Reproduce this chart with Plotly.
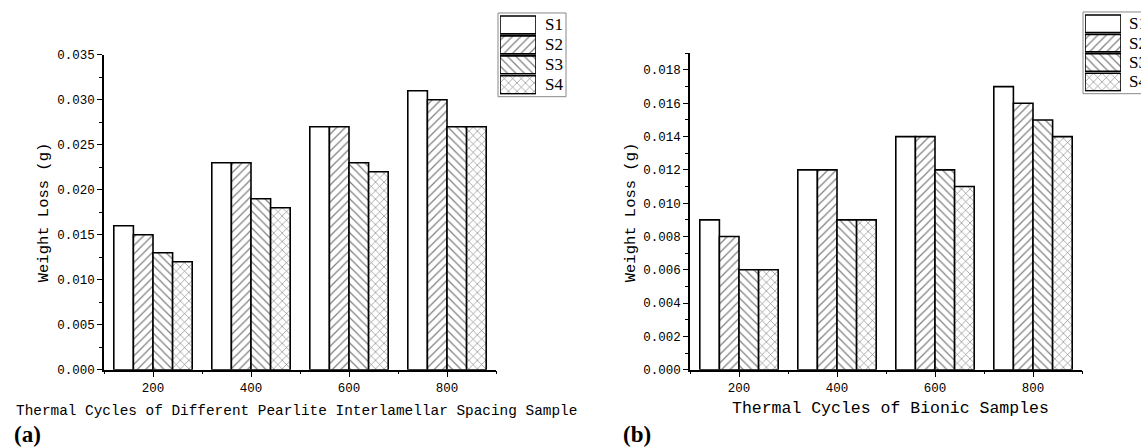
import plotly.graph_objects as go

# ---------------- data ----------------
cycles = [200, 400, 600, 800]
series_names = ["S1", "S2", "S3", "S4"]
patterns = ["", "/", "\\", "x"]

loss_a = {
    "S1": [0.016, 0.023, 0.027, 0.031],
    "S2": [0.015, 0.023, 0.027, 0.030],
    "S3": [0.013, 0.019, 0.023, 0.027],
    "S4": [0.012, 0.018, 0.022, 0.027],
}
loss_b = {
    "S1": [0.009, 0.012, 0.014, 0.017],
    "S2": [0.008, 0.012, 0.014, 0.016],
    "S3": [0.006, 0.009, 0.012, 0.015],
    "S4": [0.006, 0.009, 0.011, 0.014],
}

title_a = "Thermal Cycles of Different Pearlite Interlamellar Spacing Sample"
title_b = "Thermal Cycles of Bionic Samples"
ytitle = "Weight Loss (g)"

W, H = 1141, 460
MONO = "Liberation Mono"
SERIF = "Liberation Serif"

# screen-position helpers (target pixel positions -> paper fractions)
Y_OFF, Y_SCALE = 4.0, 0.973


def px(x):
    return x / W


def py(y):
    return 1 - ((y - Y_OFF) / Y_SCALE) / H


fig = go.Figure()

pat_size = 6
pat_sol = 0.2

for data, xa, ya in [(loss_a, "x", "y"), (loss_b, "x2", "y2")]:
    for name, pat in zip(series_names, patterns):
        fig.add_trace(go.Bar(
            x=cycles, y=data[name], name=name, xaxis=xa, yaxis=ya,
            showlegend=False,
            marker=dict(color="white", line=dict(color="black", width=1.6),
                        pattern=dict(shape=pat, fgcolor="black", bgcolor="white",
                                     size=pat_size, solidity=pat_sol)),
        ))

# legend swatches drawn as horizontal bars on hidden axes
for xa, ya in [("x3", "y3"), ("x4", "y4")]:
    fig.add_trace(go.Bar(
        y=list(range(len(series_names))), x=[1] * len(series_names),
        orientation="h", xaxis=xa, yaxis=ya, width=0.9, showlegend=False,
        hoverinfo="skip",
        marker=dict(color="white", line=dict(color="black", width=1.6),
                    pattern=dict(shape=patterns, fgcolor="black", bgcolor="white",
                                 size=pat_size, solidity=pat_sol)),
    ))

xaxis_common = dict(
    range=[100, 900], tickvals=cycles, ticks="outside", ticklen=6, tickwidth=1.3,
    tickcolor="black", showline=True, linecolor="black", linewidth=1.5,
    showgrid=False, zeroline=False,
    tickfont=dict(family=MONO, size=12.5, color="black"),
    minor=dict(tickvals=[100, 300, 500, 700, 900], ticks="outside", ticklen=3,
               tickcolor="black", tickwidth=1.3),
)
yaxis_common = dict(
    ticks="outside", ticklen=5, tickwidth=1.3, tickcolor="black",
    showline=True, linecolor="black", linewidth=1.5, showgrid=False,
    zeroline=False, tickformat=".3f",
    tickfont=dict(family=MONO, size=12.5, color="black"),
)

fig.update_layout(
    width=W, height=H, margin=dict(l=0, r=0, t=0, b=0),
    paper_bgcolor="white", plot_bgcolor="white",
    barmode="group", bargap=0.2, bargroupgap=0,
    showlegend=False,
    xaxis=dict(domain=[px(104), px(496)], anchor="y", **xaxis_common),
    yaxis=dict(domain=[py(369), py(53)], anchor="x", range=[0, 0.035], dtick=0.005,
               minor=dict(dtick=0.0025, ticks="outside", ticklen=3,
                          tickcolor="black", tickwidth=1.3),
               **yaxis_common),
    xaxis2=dict(domain=[px(690), px(1082)], anchor="y2", **xaxis_common),
    yaxis2=dict(domain=[py(369), py(51.5)], anchor="x2", range=[0, 0.019], dtick=0.002,
                minor=dict(dtick=0.001, ticks="outside", ticklen=3,
                           tickcolor="black", tickwidth=1.3),
                **yaxis_common),
    xaxis3=dict(domain=[px(500), px(536)], anchor="y3", range=[0, 1], visible=False),
    yaxis3=dict(domain=[py(93), py(13)], anchor="x3", range=[3.5, -0.5], visible=False),
    xaxis4=dict(domain=[px(1085), px(1121)], anchor="y4", range=[0, 1], visible=False),
    yaxis4=dict(domain=[py(90), py(12)], anchor="x4", range=[3.5, -0.5], visible=False),
)

shapes = [
    dict(type="rect", xref="paper", yref="paper", x0=px(498), x1=px(566),
         y0=py(95), y1=py(11), line=dict(color="#888888", width=1)),
    dict(type="rect", xref="paper", yref="paper", x0=px(1083), x1=px(1150),
         y0=py(92), y1=py(10), line=dict(color="#888888", width=1)),
]

annotations = []
for i, name in enumerate(series_names):
    annotations.append(dict(text=name, x=px(543), xref="paper", y=i, yref="y3",
                            xanchor="left", yanchor="middle", showarrow=False,
                            font=dict(family=SERIF, size=17, color="black")))
    annotations.append(dict(text=name, x=px(1127), xref="paper", y=i, yref="y4",
                            xanchor="left", yanchor="middle", showarrow=False,
                            font=dict(family=SERIF, size=17, color="black")))

annotations += [
    dict(text=title_a, x=px(296), y=py(410), xref="paper", yref="paper",
         showarrow=False, xanchor="center", yanchor="middle",
         font=dict(family=MONO, size=14.4, color="black")),
    dict(text=title_b, x=px(890), y=py(408), xref="paper", yref="paper",
         showarrow=False, xanchor="center", yanchor="middle",
         font=dict(family=MONO, size=16.5, color="black")),
    dict(text=ytitle, x=px(44), y=py(211), xref="paper", yref="paper",
         showarrow=False, xanchor="center", yanchor="middle", textangle=-90,
         font=dict(family=MONO, size=15.5, color="black")),
    dict(text=ytitle, x=px(631), y=py(211), xref="paper", yref="paper",
         showarrow=False, xanchor="center", yanchor="middle", textangle=-90,
         font=dict(family=MONO, size=15.5, color="black")),
    dict(text="<b>(a)</b>", x=px(12), y=py(434), xref="paper", yref="paper",
         showarrow=False, xanchor="left", yanchor="middle",
         font=dict(family=SERIF, size=23, color="black")),
    dict(text="<b>(b)</b>", x=px(621), y=py(434), xref="paper", yref="paper",
         showarrow=False, xanchor="left", yanchor="middle",
         font=dict(family=SERIF, size=23, color="black")),
]

fig.update_layout(shapes=shapes, annotations=annotations)

fig.write_html(
    "out.html",
    config={"displayModeBar": False},
    post_script="document.body.style.margin='0';document.body.style.overflow='hidden';",
)
